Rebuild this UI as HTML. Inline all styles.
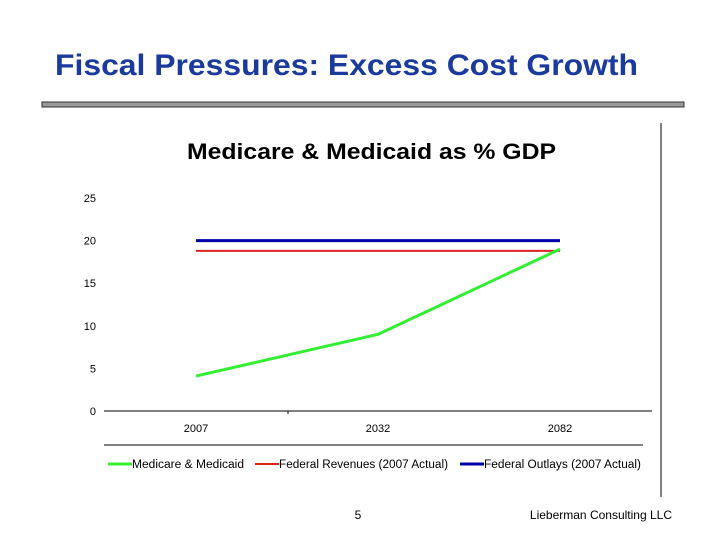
<!DOCTYPE html>
<html><head><meta charset="utf-8"><style>
body{margin:0;background:#fff;font-family:"Liberation Sans",sans-serif}
</style></head><body>
<svg width="720" height="540" viewBox="0 0 720 540" xmlns="http://www.w3.org/2000/svg" font-family="Liberation Sans, sans-serif">
<text x="55" y="75" font-size="30" font-weight="bold" fill="#1a3a9c" textLength="583" lengthAdjust="spacingAndGlyphs">Fiscal Pressures: Excess Cost Growth</text>
<rect x="42" y="102" width="642" height="5" fill="#999" stroke="#333" stroke-width="1"/>
<line x1="661" y1="123" x2="661" y2="497" stroke="#000" stroke-width="1"/>
<text x="187" y="159" font-size="22" font-weight="bold" fill="#000" textLength="369" lengthAdjust="spacingAndGlyphs">Medicare &amp; Medicaid as % GDP</text>
<g id="yaxis"></g>
<g id="xaxis"></g>
<g id="series"></g>
<line x1="104" y1="445" x2="643" y2="445" stroke="#000" stroke-width="1"/>
<g font-size="11.5">
<g><line x1="108" y1="464" x2="132" y2="464" stroke="#33ee33" stroke-width="3"/><text x="132" y="468" textLength="112" lengthAdjust="spacingAndGlyphs">Medicare &amp; Medicaid</text></g>
<g><line x1="255" y1="464" x2="279" y2="464" stroke="#dd2222" stroke-width="2"/><text x="279" y="468" textLength="169" lengthAdjust="spacingAndGlyphs">Federal Revenues (2007 Actual)</text></g>
<g><line x1="460" y1="464" x2="484" y2="464" stroke="#0000aa" stroke-width="3"/><text x="484" y="468" textLength="157" lengthAdjust="spacingAndGlyphs">Federal Outlays (2007 Actual)</text></g>
</g>
<text x="358" y="519" font-size="12" text-anchor="middle">5</text>
<text x="672" y="519" font-size="12" text-anchor="end">Lieberman Consulting LLC</text>
</svg>
<script>
const categories=["2007","2032","2082"];
const medicare=[4.1,9.0,19.0];
const revenues=[18.8,18.8,18.8];
const outlays=[20,20,20];
const yTicks=[0,5,10,15,20,25];
const NS="http://www.w3.org/2000/svg";
const x0=196,dx=182,yb=411,ys=8.52;
function xs(i){return x0+i*dx;}
function yv(v){return yb-v*ys;}
function mk(t,a,p){const e=document.createElementNS(NS,t);for(const k in a)e.setAttribute(k,a[k]);p.appendChild(e);return e;}
const ya=document.getElementById('yaxis'),xa=document.getElementById('xaxis'),sg=document.getElementById('series');
yTicks.forEach(v=>{const t=mk('text',{x:96,y:yv(v)+4,'font-size':11,'text-anchor':'end'},ya);t.textContent=v;

});
const ax=mk('line',{x1:104,y1:yb,x2:652,y2:yb,stroke:'#000','stroke-width':1},xa);


mk('line',{x1:288,y1:yb,x2:288,y2:yb+3,stroke:'#000'},xa);
categories.forEach((c,i)=>{const t=mk('text',{x:xs(i),y:yb+21,'font-size':11,'text-anchor':'middle'},xa);t.textContent=c;

});
function line(d,col,w,name){const p=mk('polyline',{points:d.map((v,i)=>xs(i)+','+yv(v)).join(' '),fill:'none',stroke:col,'stroke-width':w},sg);

}
line(outlays,'#0000aa',3,'outlays-line');
line(revenues,'#dd2222',2,'revenues-line');
line(medicare,'#33ee33',3,'medicare-line');
</script>
</body></html>
